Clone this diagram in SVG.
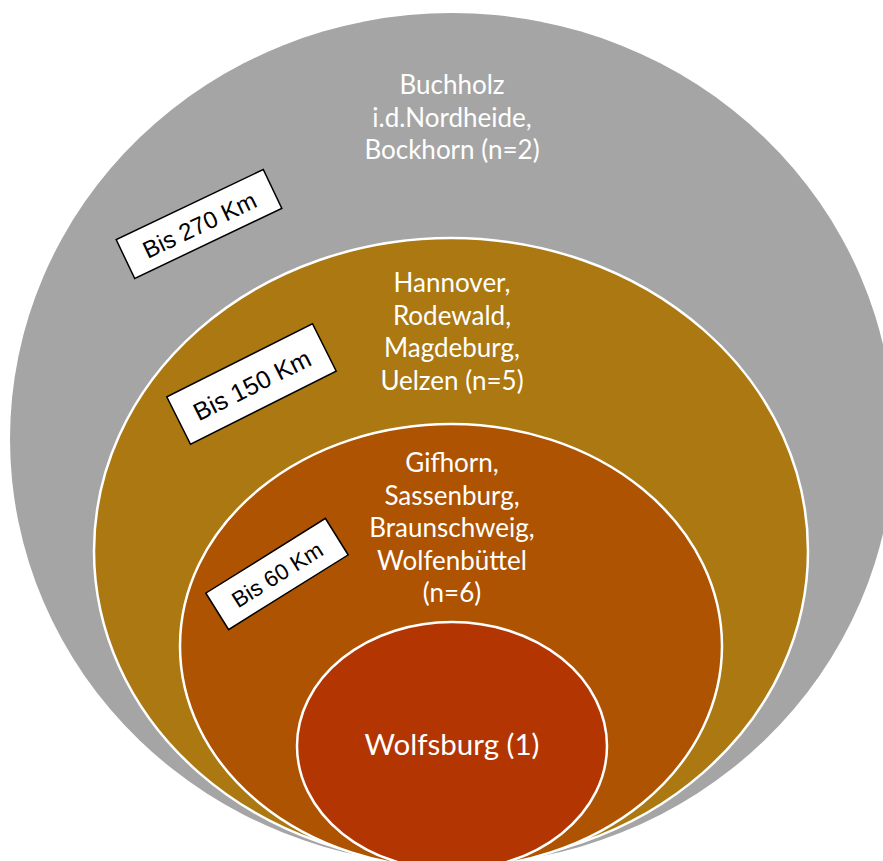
<svg xmlns="http://www.w3.org/2000/svg" width="883" height="861" viewBox="0 0 883 861">
  <style>
    .city { font-family: Lato, "Open Sans", "Liberation Sans", sans-serif; font-size: 26px; fill: #ffffff; text-anchor: middle; }
    .ring { stroke: #ffffff; stroke-width: 2.5; }
    .tag rect { fill: #ffffff; stroke: #000000; stroke-width: 1.5; }
    .tag text { font-family: "Liberation Sans", Arial, sans-serif; fill: #000000; text-anchor: middle; dominant-baseline: central; }
  </style>
  <rect width="883" height="861" fill="#ffffff"/>
  <g id="ring-270">
    <ellipse cx="452" cy="439" rx="442" ry="426" fill="#a5a5a5"/>
    <text class="city" x="452" y="94">Buchholz</text>
    <text class="city" x="452" y="126.5">i.d.Nordheide,</text>
    <text class="city" x="452" y="159">Bockhorn (n=2)</text>
  </g>
  <g id="ring-150">
    <ellipse class="ring" cx="451" cy="551" rx="357" ry="313" fill="#ab7811"/>
    <text class="city" x="452" y="292">Hannover,</text>
    <text class="city" x="452" y="324.5">Rodewald,</text>
    <text class="city" x="452" y="357">Magdeburg,</text>
    <text class="city" x="452" y="389.5">Uelzen (n=5)</text>
  </g>
  <g id="ring-60">
    <ellipse class="ring" cx="451" cy="646" rx="271" ry="222" fill="#ad5301"/>
    <text class="city" x="452" y="472">Gifhorn,</text>
    <text class="city" x="452" y="504.5">Sassenburg,</text>
    <text class="city" x="452" y="537">Braunschweig,</text>
    <text class="city" x="452" y="569.5">Wolfenbüttel</text>
    <text class="city" x="452" y="602">(n=6)</text>
  </g>
  <g id="center">
    <ellipse class="ring" cx="452" cy="746" rx="155" ry="124" fill="#b33501"/>
    <text class="city" x="452" y="755" style="font-size:29.5px">Wolfsburg (1)</text>
  </g>
  <g id="label-270" class="tag" transform="translate(199 224) rotate(-25.5)">
    <rect x="-81.5" y="-21.5" width="163" height="43"/>
    <text x="0" y="1" font-size="24">Bis 270 Km</text>
  </g>
  <g id="label-150" class="tag" transform="translate(251.5 384) rotate(-26.6)">
    <rect x="-81.5" y="-26.5" width="163" height="53"/>
    <text x="0" y="1" font-size="25">Bis 150 Km</text>
  </g>
  <g id="label-60" class="tag" transform="translate(277 574) rotate(-32)">
    <rect x="-70.5" y="-21.5" width="141" height="43"/>
    <text x="0" y="1" font-size="22.5">Bis 60 Km</text>
  </g>
  <g id="connectors"/>
</svg>
